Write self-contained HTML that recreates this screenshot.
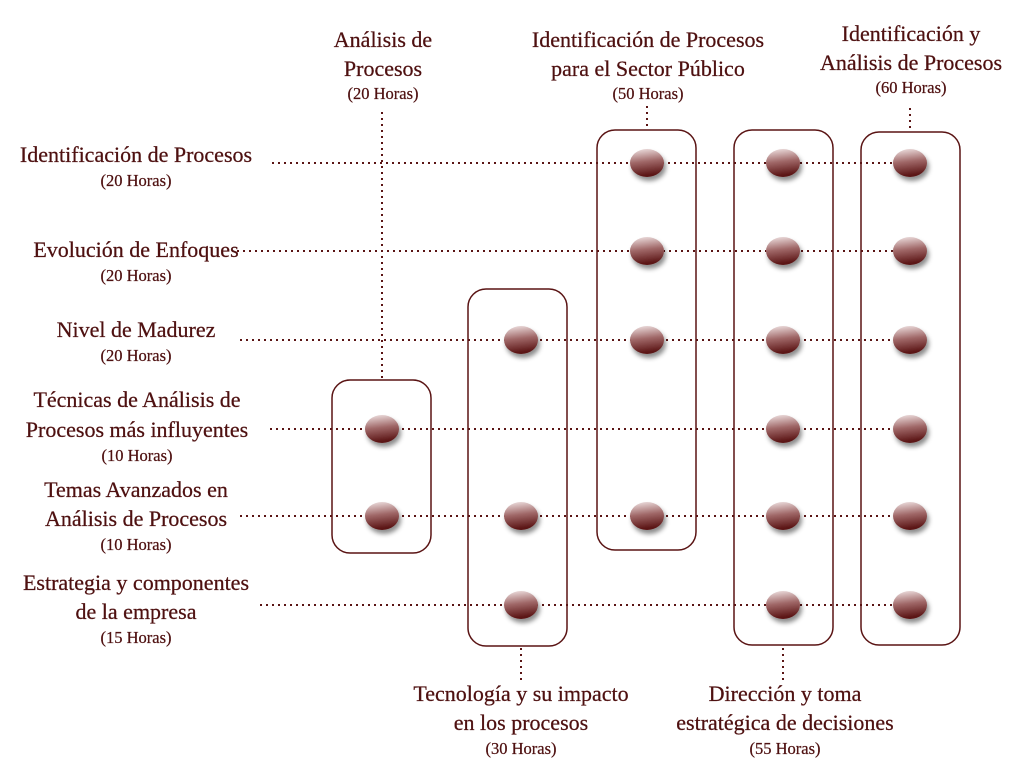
<!DOCTYPE html>
<html><head><meta charset="utf-8"><style>
body{margin:0;background:#fff}
text{font-family:"Liberation Serif",serif;fill:#4e1010;stroke:#4e1010;stroke-width:0.25}
.m{font-size:22px}.h{font-size:16.5px}
</style></head><body>
<svg width="1024" height="768" xmlns="http://www.w3.org/2000/svg">
<defs>
<linearGradient id="g" x1="0" y1="0" x2="0.15" y2="1">
<stop offset="0" stop-color="#f2e6e6"/><stop offset="0.5" stop-color="#a06868"/><stop offset="1" stop-color="#5a1414"/>
</linearGradient>
<filter id="s" x="-50%" y="-50%" width="200%" height="200%"><feDropShadow dx="2" dy="4" stdDeviation="2.5" flood-color="#000" flood-opacity="0.45"/></filter>
</defs>
<g stroke="#5a1414" stroke-width="2" stroke-dasharray="2 4" fill="none">
<line x1="272" y1="163" x2="910" y2="163"/>
<line x1="237" y1="251" x2="910" y2="251"/>
<line x1="240" y1="340" x2="910" y2="340"/>
<line x1="270" y1="429" x2="910" y2="429"/>
<line x1="240" y1="516" x2="910" y2="516"/>
<line x1="260" y1="605" x2="910" y2="605"/>
<line x1="382" y1="112" x2="382" y2="380"/>
<line x1="647" y1="106" x2="647" y2="130"/>
<line x1="910" y1="108" x2="910" y2="132"/>
<line x1="521" y1="648" x2="521" y2="680"/>
<line x1="783" y1="648" x2="783" y2="680"/>
</g>
<g stroke="#5a1414" stroke-width="1.5" fill="none">
<rect x="332" y="380" width="99" height="173" rx="18"/>
<rect x="468" y="289" width="99" height="357" rx="18"/>
<rect x="597" y="130" width="99" height="420" rx="18"/>
<rect x="734" y="130" width="99" height="515" rx="18"/>
<rect x="861" y="132" width="99" height="513" rx="18"/>
</g>
<g fill="url(#g)" filter="url(#s)">
<ellipse cx="382" cy="429" rx="17" ry="14"/><ellipse cx="382" cy="516" rx="17" ry="14"/>
<ellipse cx="521" cy="340" rx="17" ry="14"/><ellipse cx="521" cy="516" rx="17" ry="14"/><ellipse cx="521" cy="605" rx="17" ry="14"/>
<ellipse cx="647" cy="163" rx="17" ry="14"/><ellipse cx="647" cy="251" rx="17" ry="14"/><ellipse cx="647" cy="340" rx="17" ry="14"/><ellipse cx="647" cy="516" rx="17" ry="14"/>
<ellipse cx="783" cy="163" rx="17" ry="14"/><ellipse cx="783" cy="251" rx="17" ry="14"/><ellipse cx="783" cy="340" rx="17" ry="14"/><ellipse cx="783" cy="429" rx="17" ry="14"/><ellipse cx="783" cy="516" rx="17" ry="14"/><ellipse cx="783" cy="605" rx="17" ry="14"/>
<ellipse cx="910" cy="163" rx="17" ry="14"/><ellipse cx="910" cy="251" rx="17" ry="14"/><ellipse cx="910" cy="340" rx="17" ry="14"/><ellipse cx="910" cy="429" rx="17" ry="14"/><ellipse cx="910" cy="516" rx="17" ry="14"/><ellipse cx="910" cy="605" rx="17" ry="14"/>
</g>
<g text-anchor="middle">
<text class="m" x="383" y="47">Análisis de</text><text class="m" x="383" y="76">Procesos</text><text class="h" x="383" y="99">(20 Horas)</text>
<text class="m" x="648" y="47">Identificación de Procesos</text><text class="m" x="648" y="76">para el Sector Público</text><text class="h" x="648" y="99">(50 Horas)</text>
<text class="m" x="911" y="41">Identificación y</text><text class="m" x="911" y="70">Análisis de Procesos</text><text class="h" x="911" y="93">(60 Horas)</text>
<text class="m" x="136" y="162">Identificación de Procesos</text><text class="h" x="136" y="186">(20 Horas)</text>
<text class="m" x="136" y="257">Evolución de Enfoques</text><text class="h" x="136" y="281">(20 Horas)</text>
<text class="m" x="136" y="337">Nivel de Madurez</text><text class="h" x="136" y="361">(20 Horas)</text>
<text class="m" x="137" y="407">Técnicas de Análisis de</text><text class="m" x="137" y="437">Procesos más influyentes</text><text class="h" x="137" y="461">(10 Horas)</text>
<text class="m" x="136" y="497">Temas Avanzados  en</text><text class="m" x="136" y="526">Análisis de Procesos</text><text class="h" x="136" y="550">(10 Horas)</text>
<text class="m" x="136" y="590">Estrategia y componentes</text><text class="m" x="136" y="619">de la empresa</text><text class="h" x="136" y="643">(15 Horas)</text>
<text class="m" x="521" y="701">Tecnología y su impacto</text><text class="m" x="521" y="730">en los procesos</text><text class="h" x="521" y="754">(30 Horas)</text>
<text class="m" x="785" y="701">Dirección y toma</text><text class="m" x="785" y="730">estratégica de decisiones</text><text class="h" x="785" y="754">(55 Horas)</text>
</g>
</svg>
</body></html>
